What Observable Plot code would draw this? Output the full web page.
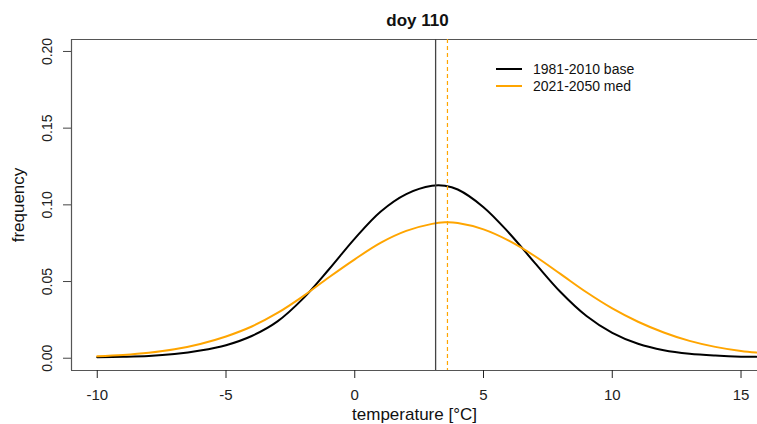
<!DOCTYPE html>
<html><head><meta charset="utf-8">
<script src="https://cdn.jsdelivr.net/npm/d3@7"></script>
<script src="https://cdn.jsdelivr.net/npm/@observablehq/plot@0.6"></script>
<style>
html,body{margin:0;padding:0;background:#fff;overflow:hidden}
#wrap{position:relative;width:757px;height:424px;font-family:"Liberation Sans",Arial,sans-serif}
#wrap svg{display:block}
#legend{position:absolute;left:496px;top:60px;font-size:14px;color:#111}
.row{display:flex;align-items:center;height:17px;white-space:nowrap}
.sw{width:26px;height:0;border-top:2px solid;margin-right:11px}
</style></head><body><div id="wrap"><div id="legend"></div></div>
<script>
const title = "doy 110";
const xLabel = "temperature [°C]";
const yLabel = "frequency";
const seriesNames = ["1981-2010 base", "2021-2050 med"];
const seriesColors = ["#000000", "#FFA500"];
const temps    = [-10, -9, -8, -7, -6, -5, -4, -3, -2, -1, 0, 1, 2, 3, 3.5, 4, 5, 6, 7, 8, 9, 10, 11, 12, 13, 14, 15, 15.6];
const baseFreq = [0.0007, 0.0009, 0.0014, 0.0027, 0.0050, 0.0085, 0.0145, 0.0240, 0.0390, 0.0580, 0.0780, 0.0955, 0.1070, 0.1124, 0.1124, 0.1100, 0.0985, 0.0815, 0.0620, 0.0430, 0.0275, 0.0165, 0.0094, 0.0052, 0.0029, 0.0017, 0.0010, 0.0009];
const medFreq  = [0.0013, 0.0021, 0.0035, 0.0058, 0.0093, 0.0142, 0.0207, 0.0295, 0.0405, 0.0528, 0.0645, 0.0752, 0.0830, 0.0876, 0.0886, 0.0882, 0.0840, 0.0765, 0.0665, 0.0548, 0.0430, 0.0325, 0.0238, 0.0168, 0.0113, 0.0074, 0.0047, 0.0037];
const baseMean = 3.14;
const medMean = 3.60;
const xTicks = [-10, -5, 0, 5, 10, 15];
const yTicks = [0, 0.05, 0.10, 0.15, 0.20];

const xDomain = [-11.0, 15.64];
const yDomain = [-0.008, 0.2078];
const fmtY = d3.format(".2f");
const font = '"Liberation Sans", Arial, sans-serif';

const rows = temps.flatMap((t, i) => [
  {t, f: baseFreq[i], s: seriesNames[0]},
  {t, f: medFreq[i], s: seriesNames[1]}
]);

const chart = Plot.plot({
  width: 757, height: 424,
  marginLeft: 71, marginRight: 0, marginTop: 39, marginBottom: 54,
  style: {fontFamily: font, background: "white", overflow: "visible"},
  x: {domain: xDomain},
  y: {domain: yDomain},
  color: {domain: seriesNames, range: seriesColors},
  marks: [
    Plot.ruleY([yDomain[0], yDomain[1]], {stroke: "#555", strokeWidth: 1.2}),
    Plot.ruleX([xDomain[0]], {stroke: "#555", strokeWidth: 1.2}),
    Plot.axisX({ticks: xTicks, tickSize: 8, tickPadding: 11, fontSize: 15, label: null, color: "#222", tickFormat: d => String(d)}),
    Plot.axisY({ticks: yTicks, tickSize: 8, tickFormat: () => "", label: null, color: "#444"}),
    Plot.text(yTicks, {y: d => d, text: d => fmtY(d), frameAnchor: "left", dx: -23.5, rotate: -90, fontSize: 14, fill: "#222", textAnchor: "middle", lineAnchor: "middle"}),
    Plot.line(rows, {x: "t", y: "f", stroke: "s", strokeWidth: 2, curve: "catmull-rom"}),
    Plot.ruleX([baseMean], {stroke: "#444", strokeWidth: 1.3}),
    Plot.ruleX([medMean], {stroke: "#FFA500", strokeWidth: 1.2, strokeDasharray: "4,3"}),
    Plot.text([title], {frameAnchor: "top", dx: 3, dy: -26, lineAnchor: "top", fontSize: 17, fontWeight: "bold", fill: "#111"}),
    Plot.text([xLabel], {frameAnchor: "bottom", dy: 37, lineAnchor: "top", fontSize: 17, fill: "#111"}),
    Plot.text([yLabel], {frameAnchor: "left", dx: -53, rotate: -90, fontSize: 17, fill: "#111", textAnchor: "middle", lineAnchor: "middle"})
  ]
});
const wrap = document.getElementById("wrap");
wrap.insertBefore(chart, wrap.firstChild);

const legend = document.getElementById("legend");
seriesNames.forEach((name, i) => {
  const row = document.createElement("div");
  row.className = "row";
  const sw = document.createElement("span");
  sw.className = "sw";
  sw.style.borderTopColor = seriesColors[i];
  const label = document.createElement("span");
  label.textContent = name;
  row.appendChild(sw);
  row.appendChild(label);
  legend.appendChild(row);
});
</script></body></html>
